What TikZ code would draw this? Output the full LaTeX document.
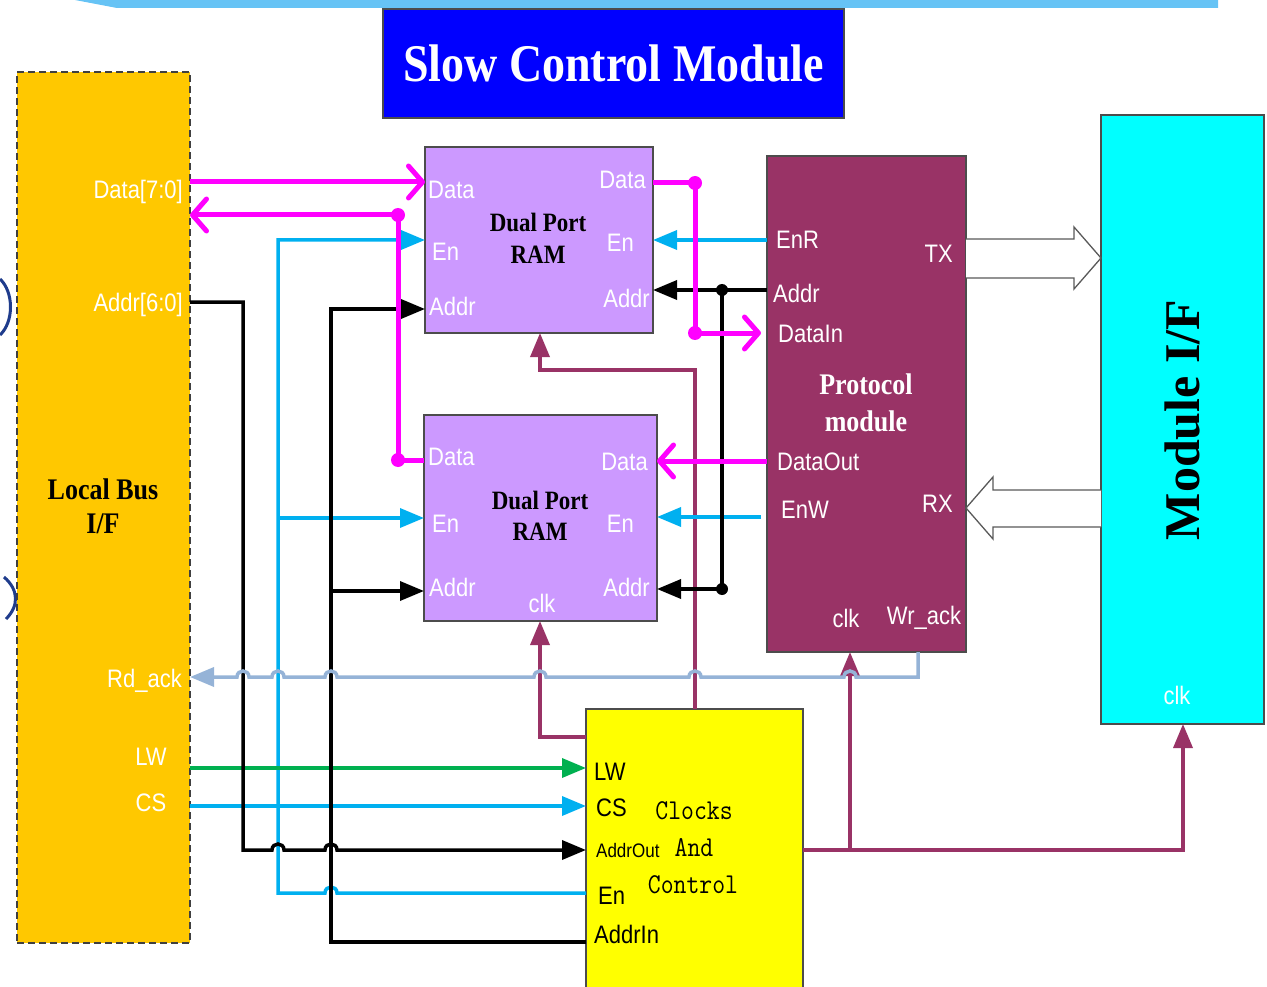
\documentclass[tikz,border=0pt]{standalone}
\usepackage{fontspec}
\setmainfont{Liberation Serif}
\setsansfont{Liberation Sans}
\usepackage{graphicx}
\usetikzlibrary{arrows.meta}
\definecolor{bandblue}{HTML}{66C3F5}
\definecolor{titleblue}{HTML}{0000FF}
\definecolor{lborange}{HTML}{FFC800}
\definecolor{ramviolet}{HTML}{CC99FF}
\definecolor{protred}{HTML}{993366}
\definecolor{mifcyan}{HTML}{00FFFF}
\definecolor{ccyellow}{HTML}{FFFF00}
\definecolor{magline}{HTML}{FF00FF}
\definecolor{blueline}{HTML}{00B0F0}
\definecolor{greenline}{HTML}{00B050}
\definecolor{greyline}{HTML}{95B3D7}
\definecolor{arcblue}{HTML}{1F3C8C}
\newcommand\vs[1]{\scalebox{1}[1.15]{#1}}
\tikzset{
  mytri/.tip={Triangle[length=24pt,width=19pt]},
  mybarb/.tip={Straight Barb[length=14pt,width=32pt,round]},
  box/.style={draw=black!70, line width=1.5pt, inner sep=0pt, outer sep=0pt, anchor=north west},
  wl/.style={text=white, font=\sffamily\fontsize{22}{24}\selectfont, inner sep=0pt},
  kl/.style={text=black, font=\sffamily\fontsize{22}{24}\selectfont, inner sep=0pt},
  bt/.style={text=black, font=\rmfamily\bfseries\fontsize{23}{32}\selectfont, inner sep=0pt, align=center},
  magl/.style={draw=magline, line width=5pt},
  bluel/.style={draw=blueline, line width=3.5pt},
  greenl/.style={draw=greenline, line width=3.5pt},
  blackl/.style={draw=black, line width=3.5pt},
  maroonl/.style={draw=protred, line width=3.5pt},
  greyl/.style={draw=greyline, line width=3.5pt},
  fatarrow/.style={draw=black!65, fill=white, line width=1.3pt, line join=miter}
}
\begin{document}
\begin{tikzpicture}[x=1pt,y=-1pt]
\useasboundingbox (0,0) rectangle (1267,987);
% top band
\fill[bandblue] (75,0) -- (1218,0) -- (1218,8) -- (117,8) -- cycle;
% left edge arcs
\draw[arcblue, line width=3pt] (0,279) .. controls (14,292) and (14,322) .. (0,335);
\draw[arcblue, line width=3pt] (4,577) .. controls (19,590) and (19,606) .. (6,619);
% title
\node[box, fill=titleblue, minimum width=461pt, minimum height=109pt] (title) at (383,9) {};
\node[text=white, font=\rmfamily\bfseries\fontsize{46}{50}\selectfont, inner sep=0pt] (titletext) at (title.center) {\vs{Slow Control Module}};
% blocks
\node[box, fill=lborange, draw=black!75, dash pattern=on 7pt off 4pt, minimum width=173pt, minimum height=871pt] (lb) at (17,72) {};
\node[box, fill=ramviolet, minimum width=228pt, minimum height=186pt] (ram1) at (425,147) {};
\node[box, fill=ramviolet, minimum width=233pt, minimum height=206pt] (ram2) at (424,415) {};
\node[box, fill=protred, minimum width=199pt, minimum height=496pt] (prot) at (767,156) {};
\node[box, fill=mifcyan, minimum width=163pt, minimum height=609pt] (mif) at (1101,115) {};
\node[box, fill=ccyellow, minimum width=217pt, minimum height=290pt] (cc) at (586,709) {};

% TX / RX hollow arrows
\draw[fatarrow] (prot.east |- 0,239) -- (1074,239) -- (1074,227) -- (mif.west |- 0,258) -- (1074,289) -- (1074,278) -- (prot.east |- 0,278);
\draw[fatarrow] (mif.west |- 0,490) -- (993,490) -- (993,477) -- (prot.east |- 0,508) -- (993,539) -- (993,527) -- (mif.west |- 0,527);

% maroon clock lines
\draw[maroonl, -mytri] (cc.north -| 695,0) -- (695,370) -- (540,370) -- (ram1.south -| 540,0);
\draw[maroonl, -mytri] (cc.west |- 0,737) -- (540,737) -- (ram2.south -| 540,0);
\coordinate (mj) at (850,850);
\draw[maroonl, -mytri] (cc.east |- mj) -- (1183,850) -- (mif.south -| 1183,0);
\draw[maroonl, -mytri] (mj) -- (prot.south -| mj);

% blue lines
\draw[bluel, -mytri] (cc.west |- 0,893) -- (337,893) .. controls (337,885) and (325,885) .. (325,893) -- (278,893) -- (278,240) -- (ram1.west |- 0,240);
\draw[bluel, -mytri] (278,518) -- (ram2.west |- 0,518);
\draw[bluel, -mytri] (lb.east |- 0,806) -- (cc.west |- 0,806);
\draw[bluel, -mytri] (prot.west |- 0,240) -- (ram1.east |- 0,240);
\draw[bluel, -mytri, shorten <=6pt] (prot.west |- 0,517) -- (ram2.east |- 0,517);

% green
\draw[greenl, -mytri] (lb.east |- 0,768) -- (cc.west |- 0,768);

% black address lines
\draw[blackl, -mytri] (lb.east |- 0,302) -- (243,302) -- (243,850) -- (272,850) .. controls (272,842) and (284,842) .. (284,850) -- (325,850) .. controls (325,842) and (337,842) .. (337,850) -- (cc.west |- 0,850);
\draw[blackl, -mytri] (cc.west |- 0,942) -- (331,942) -- (331,309) -- (ram1.west |- 0,309);
\draw[blackl, -mytri] (331,591) -- (ram2.west |- 0,591);
\coordinate (bj1) at (722,290);
\coordinate (bj2) at (722,589);
\draw[blackl, -mytri] (prot.west |- bj1) -- (ram1.east |- bj1);
\draw[blackl, -mytri] (bj1) -- (bj2) -- (ram2.east |- bj2);
\fill (bj1) circle (6pt);
\fill (bj2) circle (6pt);

% magenta data lines
\coordinate (jd1) at (398,215);
\coordinate (jd2) at (398,460);
\coordinate (jd3) at (695,183);
\coordinate (jd4) at (695,333);
\draw[magl, -mybarb] (lb.east |- 0,182) -- (ram1.west |- 0,182);
\draw[magl, -mybarb] (jd1) -- (lb.east |- jd1);
\draw[magl] (jd1) -- (jd2) -- (ram2.west |- jd2);
\draw[magl] (ram1.east |- jd3) -- (jd3) -- (jd4);
\draw[magl, -mybarb, shorten >=6pt] (jd4) -- (prot.west |- jd4);
\draw[magl, -mybarb] (prot.west |- 0,461) -- (ram2.east |- 0,461);
\foreach \p in {jd1,jd2,jd3,jd4} \fill[magline] (\p) circle (7pt);

% Rd_ack / Wr_ack line with hops
\draw[greyl, -mytri] (prot.south -| 918,0) -- (918,677)
  -- (856,677) .. controls (856,669) and (844,669) .. (844,677)
  -- (701,677) .. controls (701,669) and (689,669) .. (689,677)
  -- (546,677) .. controls (546,669) and (534,669) .. (534,677)
  -- (337,677) .. controls (337,669) and (325,669) .. (325,677)
  -- (284,677) .. controls (284,669) and (272,669) .. (272,677)
  -- (249,677) .. controls (249,669) and (237,669) .. (237,677)
  -- (lb.east |- 0,677);

% Local bus labels
\node[wl, anchor=east] (lbd) at (183,192) {\vs{Data[7:0]}};
\node[wl, anchor=east] (lba) at (183,305) {\vs{Addr[6:0]}};
\node[bt, font=\rmfamily\bfseries\fontsize{26}{34}\selectfont] (lbt) at (103,506) {\vs{Local Bus}\\\vs{I/F}};
\node[wl, anchor=east] (lbr) at (182,681) {\vs{Rd\_ack}};
\node[wl] (lblw) at (151,757) {\vs{LW}};
\node[wl] (lbcs) at (151,803) {\vs{CS}};

% RAM1 labels
\node[wl, anchor=west] (r1dl) at (428,190) {\vs{Data}};
\node[wl, anchor=west] (r1el) at (432,252) {\vs{En}};
\node[wl, anchor=west] (r1al) at (429,306) {\vs{Addr}};
\node[wl, anchor=east] (r1dr) at (646,180) {\vs{Data}};
\node[wl, anchor=east] (r1er) at (634,243) {\vs{En}};
\node[wl, anchor=east] (r1ar) at (650,298) {\vs{Addr}};
\node[bt] (r1t) at (538,238) {\vs{Dual Port}\\\vs{RAM}};

% RAM2 labels
\node[wl, anchor=west] (r2dl) at (428,457) {\vs{Data}};
\node[wl, anchor=west] (r2el) at (432,524) {\vs{En}};
\node[wl, anchor=west] (r2al) at (429,587) {\vs{Addr}};
\node[wl] (r2clk) at (542,603) {\vs{clk}};
\node[wl, anchor=east] (r2dr) at (648,462) {\vs{Data}};
\node[wl, anchor=east] (r2er) at (634,524) {\vs{En}};
\node[wl, anchor=east] (r2ar) at (650,587) {\vs{Addr}};
\node[bt, font=\rmfamily\bfseries\fontsize{23}{31}\selectfont] (r2t) at (540,516) {\vs{Dual Port}\\\vs{RAM}};

% Protocol labels
\node[wl, anchor=west] (penr) at (776,240) {\vs{EnR}};
\node[wl, anchor=west] (paddr) at (773,293) {\vs{Addr}};
\node[wl, anchor=west] (pdin) at (778,334) {\vs{DataIn}};
\node[wl, anchor=west] (pdout) at (777,462) {\vs{DataOut}};
\node[wl, anchor=west] (penw) at (781,510) {\vs{EnW}};
\node[wl, anchor=east] (ptx) at (953,254) {\vs{TX}};
\node[wl, anchor=east] (prx) at (953,504) {\vs{RX}};
\node[wl] (pclk) at (846,618) {\vs{clk}};
\node[wl] (pwr) at (924,618) {\vs{Wr\_ack}};
\node[bt, text=white, font=\rmfamily\bfseries\fontsize{26}{37}\selectfont] (pt) at (866,403) {\vs{Protocol}\\\vs{module}};

% Module I/F labels
\node[bt, rotate=90, font=\rmfamily\bfseries\fontsize{50}{54}\selectfont] (mift) at (1182,420) {Module I/F};
\node[wl] (mifclk) at (1177,695) {\vs{clk}};

% Clocks and control labels
\node[kl, anchor=west] (clw) at (594,772) {\vs{LW}};
\node[kl, anchor=west] (ccs) at (596,808) {\vs{CS}};
\node[kl, anchor=west, font=\sffamily\fontsize{17}{19}\selectfont] (cao) at (596,851) {\vs{AddrOut}};
\node[kl, anchor=west] (cen) at (598,896) {\vs{En}};
\node[kl, anchor=west] (cai) at (594,934) {\vs{AddrIn}};
\node[kl, font=\ttfamily\fontsize{25}{27}\selectfont] (cc1) at (694,811) {\vs{Clocks}};
\node[kl, font=\ttfamily\fontsize{25}{27}\selectfont] (cc2) at (694,848) {\vs{And}};
\node[kl, font=\ttfamily\fontsize{25}{27}\selectfont] (cc3) at (693,885) {\vs{Control}};
\end{tikzpicture}
\end{document}
